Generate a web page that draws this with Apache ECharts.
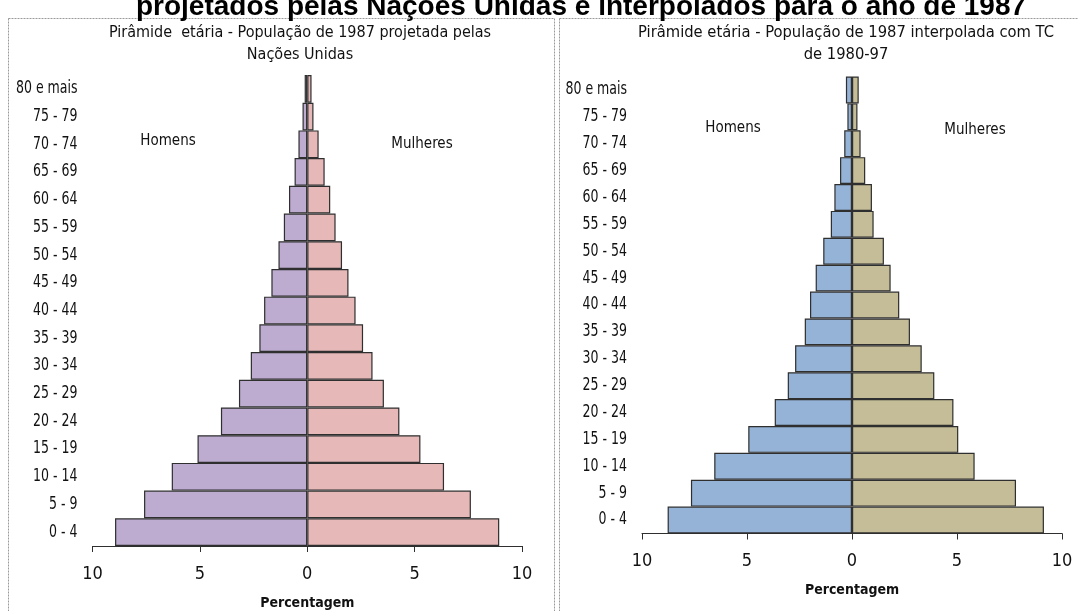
<!DOCTYPE html>
<html>
<head>
<meta charset="utf-8">
<style>
  html, body { margin: 0; padding: 0; background: #ffffff; }
  #chart { width: 1078px; height: 611px; }
</style>
<script src="https://cdn.jsdelivr.net/npm/echarts@6/dist/echarts.min.js"></script>
</head>
<body>
<div id="chart"></div>
<script>
// ---- Data (bottom to top) ----
const categories = ['0 - 4','5 - 9','10 - 14','15 - 19','20 - 24','25 - 29','30 - 34','35 - 39','40 - 44','45 - 49','50 - 54','55 - 59','60 - 64','65 - 69','70 - 74','75 - 79','80 e mais'];

// Left chart: População de 1987 projetada pelas Nações Unidas (%)
const unMen   = [8.95, 7.60, 6.31, 5.11, 4.02, 3.18, 2.63, 2.23, 2.01, 1.67, 1.34, 1.09, 0.85, 0.59, 0.41, 0.22, 0.12];
const unWomen = [8.94, 7.62, 6.37, 5.27, 4.29, 3.57, 3.04, 2.60, 2.25, 1.92, 1.62, 1.32, 1.07, 0.81, 0.53, 0.29, 0.20];

// Right chart: População de 1987 interpolada com TC de 1980-97 (%)
const tcMen   = [8.78, 7.67, 6.56, 4.94, 3.68, 3.06, 2.71, 2.25, 2.00, 1.73, 1.37, 1.01, 0.84, 0.57, 0.37, 0.22, 0.29];
const tcWomen = [9.14, 7.81, 5.84, 5.06, 4.83, 3.92, 3.32, 2.76, 2.25, 1.84, 1.52, 1.03, 0.95, 0.63, 0.41, 0.26, 0.32];

const mainTitle = 'projetados pelas Nações Unidas e interpolados para o ano de 1987';
const leftTitle = 'Pirâmide  etária - População de 1987 projetada pelas\nNações Unidas';
const rightTitle = 'Pirâmide etária - População de 1987 interpolada com TC\nde 1980-97';
const axisName = 'Percentagem';
const menLabel = 'Homens';
const womenLabel = 'Mulheres';

// ---- Styling ----
const NARROW = "'Liberation Sans Narrow', 'DejaVu Sans Condensed', 'Liberation Sans', sans-serif";
const BORDER = '#2f2f2f';
const SQUEEZE = 0.82;

function xAxisCfg(gridIndex, gap) {
  return {
    type: 'value', gridIndex: gridIndex, min: -10, max: 10, interval: 5,
    axisLine: { show: true, onZero: false, lineStyle: { color: BORDER, width: 1 } },
    axisTick: { show: true, length: 6, lineStyle: { color: BORDER } },
    splitLine: { show: false },
    axisLabel: { formatter: v => String(Math.abs(v)), color: '#111', fontFamily: NARROW, fontSize: 18, margin: 19 },
    name: axisName, nameLocation: 'middle', nameGap: gap,
    nameTextStyle: { fontFamily: NARROW, fontSize: 14, fontWeight: 'bold', color: '#111' }
  };
}
function yAxisCfg(gridIndex) {
  return {
    type: 'category', gridIndex: gridIndex, data: categories,
    axisLine: { show: false }, axisTick: { show: false },
    axisLabel: { show: false }
  };
}
function barSeries(idx, values, sign, color, stack) {
  return {
    type: 'bar', xAxisIndex: idx, yAxisIndex: idx, stack: stack,
    data: values.map(v => sign * v),
    barCategoryGap: '0%', barGap: '0%',
    itemStyle: { color: color, borderColor: BORDER, borderWidth: 1.2 },
    emphasis: { disabled: true },
    silent: true
  };
}
function txt(x, y, text, size, opts) {
  opts = opts || {};
  return { type: 'text', silent: true, x: x, y: y, scaleX: opts.scaleX || 1,
    style: { text: text, fill: opts.fill || '#111', font: (opts.weight || 'normal') + ' ' + size + 'px ' + (opts.family || NARROW),
      textAlign: opts.align || 'center', textVerticalAlign: 'middle', lineHeight: opts.lineHeight || size } };
}

const chart = echarts.init(document.getElementById('chart'), null, { renderer: 'canvas' });

const baseGraphic = [
  { type: 'rect', silent: true, z: -1, shape: { x: 8.5, y: 18.5, width: 546, height: 640 },
    style: { fill: 'none', stroke: '#9a9a9a', lineWidth: 1, lineDash: [2, 1] } },
  { type: 'rect', silent: true, z: -1, shape: { x: 559.5, y: 18.5, width: 540, height: 640 },
    style: { fill: 'none', stroke: '#9a9a9a', lineWidth: 1, lineDash: [2, 1] } },
  txt(581, 7, mainTitle, 28, { weight: 'bold', family: "'Liberation Sans', Arial, sans-serif", fill: '#000' }),
  txt(300, 44, leftTitle, 16, { lineHeight: 22 }),
  txt(846, 44, rightTitle, 16.4, { lineHeight: 22 }),
  txt(168, 141, menLabel, 15),
  txt(422, 144, womenLabel, 15),
  txt(733, 128, menLabel, 15),
  txt(975, 130, womenLabel, 15)
];

chart.setOption({
  animation: false,
  backgroundColor: '#ffffff',
  grid: [
    { left: 92.5, right: 1078 - 522, top: 75, bottom: 611 - 546, outerBoundsMode: 'none', containLabel: false },
    { left: 642, right: 1078 - 1062, top: 76.5, bottom: 611 - 533.5, outerBoundsMode: 'none', containLabel: false }
  ],
  xAxis: [xAxisCfg(0, 50), xAxisCfg(1, 50)],
  yAxis: [yAxisCfg(0), yAxisCfg(1)],
  series: [
    barSeries(0, unMen, -1, '#BDACD0', 'un'),
    barSeries(0, unWomen, 1, '#E6B9B8', 'un'),
    barSeries(1, tcMen, -1, '#95B3D7', 'tc'),
    barSeries(1, tcWomen, 1, '#C4BD97', 'tc')
  ],
  graphic: baseGraphic
});

// Category labels in a condensed look, placed through the library's own axes
const labelGraphic = [];
[0, 1].forEach(function (g) {
  const leftEdge = chart.convertToPixel({ xAxisIndex: g }, -10);
  categories.forEach(function (c) {
    const y = chart.convertToPixel({ yAxisIndex: g }, c);
    labelGraphic.push(txt(leftEdge - 15, y, c, 17, { align: 'right', scaleX: SQUEEZE }));
  });
});
chart.setOption({ graphic: baseGraphic.concat(labelGraphic) });
</script>
</body>
</html>
